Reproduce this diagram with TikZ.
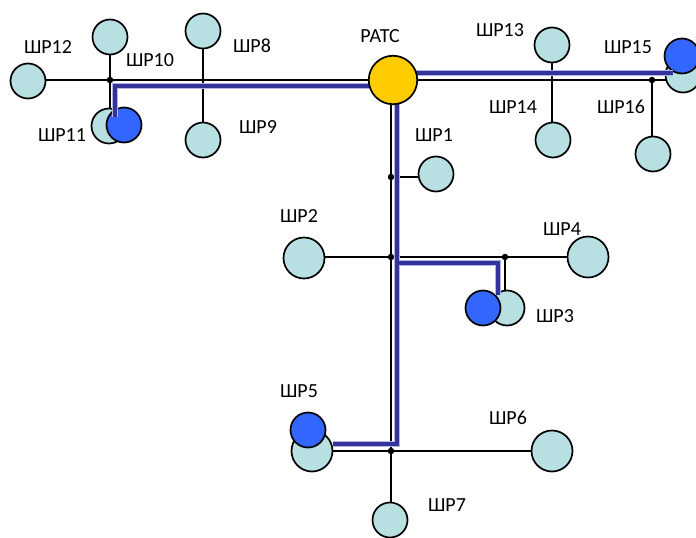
\documentclass[tikz,border=0pt]{standalone}
\usepackage{fontspec}
\setmainfont{Carlito}
\definecolor{lightc}{HTML}{B8DFE1}
\definecolor{bluec}{HTML}{3366FF}
\definecolor{yellowc}{HTML}{FFCC00}
\definecolor{routec}{HTML}{333399}
\definecolor{routeedge}{HTML}{B4B4E6}
\pgfdeclarelayer{bg}
\pgfdeclarelayer{top}
\pgfsetlayers{bg,main,top}
\tikzset{
  st/.style={circle, draw=black, line width=1.7pt, fill=lightc, minimum size=35pt, inner sep=0pt},
  stbig/.style={st, minimum size=41pt},
  stblue/.style={st, fill=bluec},
  hub/.style={circle, draw=black, line width=1.7pt, fill=yellowc, minimum size=48.5pt, inner sep=0pt},
  jdot/.style={circle, fill=black, minimum size=6.5pt, inner sep=0pt},
  lbl/.style={font=\fontsize{20}{22}\selectfont, inner sep=0pt},
  wire/.style={draw=black, line width=1.8pt},
  route/.style={double=routec, double distance=4pt, line width=0.7pt, draw=routeedge, line join=miter}
}
\begin{document}
\begin{tikzpicture}[x=1pt,y=-1pt]
\useasboundingbox (0,0) rectangle (696,538);
% light stations
\node[st] (s12) at (28,81) {};
\node[st] (s10) at (110,37) {};
\node[st] (s11l) at (109,126) {};
\node[st] (s8) at (203,31) {};
\node[st] (s9) at (203,140) {};
\node[st] (s13) at (552,45) {};
\node[st] (s14) at (553,140) {};
\node[st] (s15l) at (683,75) {};
\node[st] (s16) at (653,154) {};
\node[st] (s1) at (436,174) {};
\node[stbig] (s2) at (304,258) {};
\node[stbig] (s4) at (588,257) {};
\node[st] (s3l) at (507,308) {};
\node[stbig] (s5l) at (312,451) {};
\node[stbig] (s6) at (552,451) {};
\node[st] (s7) at (390,520) {};
% blue stations
\node[stblue] (s11b) at (124,125) {};
\node[stblue] (s15b) at (682,56) {};
\node[stblue] (s3b) at (483,308) {};
\node[stblue] (s5b) at (308,430) {};
% hub
\begin{pgfonlayer}{top}
\node[hub] (ratc) at (393,80) {};
\end{pgfonlayer}
% junctions
\node[jdot] (j10) at (110,80) {};
\node[jdot] (j16) at (652,80) {};
\node[jdot] (j1) at (391,177) {};
\node[jdot] (j2) at (391,257) {};
\node[jdot] (j3) at (505,257) {};
\node[jdot] (j7) at (391,451) {};
% black wires
\begin{pgfonlayer}{bg}
\draw[wire] (j10 -| s12) -- (j10.center) -- (ratc.center);
\draw[wire] (ratc.center) -- (j16.center) -- (j16 -| s15l);
\draw[wire] (s10.center) -- (s10 |- s11l);
\draw[wire] (s8.center) -- (s9.center);
\draw[wire] (s13.center) -- (s13 |- s14);
\draw[wire] (j16.center) -- (j16 |- s16);
\draw[wire] (ratc.center -| j1) -- (j1.center) -- (j2.center) -- (j7.center) -- (j7 |- s7);
\draw[wire] (j1.center) -- (j1 -| s1);
\draw[wire] (j2 -| s2) -- (j2.center) -- (j3.center) -- (s4.center);
\draw[wire] (j3.center) -- (j3 |- s3l);
\draw[wire] (s5l.center) -- (j7.center) -- (s6.center);
\end{pgfonlayer}
% route coordinates
\coordinate (r1) at (115,117);
\coordinate (r2) at (115,86);
\coordinate (r3) at (673,73);
\coordinate (r4) at (397,444);
\coordinate (r5) at (333,444);
\coordinate (r6) at (397,263);
\coordinate (r7) at (498,263);
\coordinate (r8) at (498,295);
\draw[route] (r1) -- (r2) -- (r2 -| ratc)
  (ratc.center |- r3) -- (r3)
  (r4 |- ratc) -- (r4) -- (r5)
  (r6) -- (r7) -- (r8);
% labels
\node[lbl] (t12) at (48,47) {ШР12};
\node[lbl] (t10) at (150,60) {ШР10};
\node[lbl] (t11) at (62,135) {ШР11};
\node[lbl] (t8) at (252,46) {ШР8};
\node[lbl] (t9) at (258,127) {ШР9};
\node[lbl] (tr) at (380,36) {РАТС};
\node[lbl] (t13) at (500,30) {ШР13};
\node[lbl] (t15) at (628,47) {ШР15};
\node[lbl] (t14) at (513,107) {ШР14};
\node[lbl] (t16) at (621,107) {ШР16};
\node[lbl] (t1) at (434,135) {ШР1};
\node[lbl] (t2) at (299,216) {ШР2};
\node[lbl] (t4) at (562,229) {ШР4};
\node[lbl] (t3) at (555,316) {ШР3};
\node[lbl] (t5) at (299,391) {ШР5};
\node[lbl] (t6) at (508,418) {ШР6};
\node[lbl] (t7) at (447,505) {ШР7};
\end{tikzpicture}
\end{document}
